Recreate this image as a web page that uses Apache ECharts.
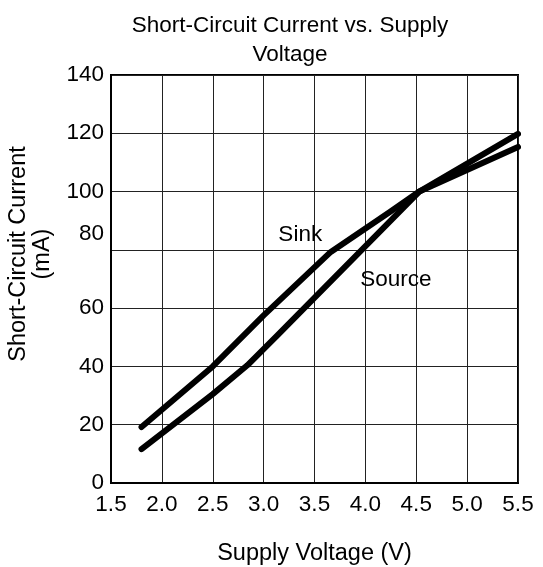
<!DOCTYPE html>
<html>
<head>
<meta charset="utf-8">
<script src="https://cdn.jsdelivr.net/npm/echarts@6/dist/echarts.min.js"></script>
<style>html,body{margin:0;padding:0;background:#fff;}#c{width:543px;height:567px;}</style>
</head>
<body>
<div id="c"></div>
<script>
const titleText = 'Short-Circuit Current vs. Supply\nVoltage';
const xName = 'Supply Voltage (V)';
const yName = 'Short-Circuit Current\n(mA)';
const sinkData = [[1.8, 19.2], [2.5, 40], [3.0, 57.5], [3.66, 79.3], [4.24, 93], [4.53, 100], [5.5, 115.3]];
const sourceData = [[1.8, 11.6], [2.5, 30.5], [2.84, 40.4], [3.13, 50.5], [4.53, 100], [5.5, 119.8]];
const annotations = [[3.36, 85, 'Sink'], [4.3, 69.8, 'Source']];
const xMin = 1.5, xMax = 5.5, xStep = 0.5;
const yMin = 0, yMax = 140, yStep = 20;

const FONT = 'Liberation Sans, Arial, sans-serif';
const chart = echarts.init(document.getElementById('c'), null, {renderer: 'canvas'});
const lineStyle = {color: '#000', width: 6, cap: 'round', join: 'round'};
chart.setOption({
  animation: false,
  backgroundColor: '#fff',
  title: {
    text: titleText, left: 285, top: 6, textAlign: 'center',
    textStyle: {fontFamily: FONT, fontSize: 22.5, fontWeight: 'normal', color: '#000', lineHeight: 29}
  },
  grid: {left: 111, right: 25, top: 75, bottom: 84, show: true, borderColor: '#000', borderWidth: 2,
    containLabel: false, outerBoundsMode: 'none'},
  xAxis: {
    type: 'value', min: xMin, max: xMax, interval: xStep,
    name: xName, nameLocation: 'middle', nameGap: 58.5,
    nameTextStyle: {fontFamily: FONT, fontSize: 23.5, color: '#000'},
    axisLine: {show: true, lineStyle: {color: '#000', width: 2}},
    axisTick: {show: false},
    axisLabel: {fontFamily: FONT, fontSize: 22.5, color: '#000', margin: 10, formatter: v => v.toFixed(1)},
    splitLine: {show: true, lineStyle: {color: '#222', width: 1}}
  },
  yAxis: {
    type: 'value', min: yMin, max: yMax, interval: yStep,
    axisLine: {show: true, lineStyle: {color: '#000', width: 2}},
    axisTick: {show: false},
    axisLabel: {
      fontFamily: FONT, fontSize: 22.5, color: '#000', margin: 7,
      formatter: v => v === 80 ? '{up|80}' : String(v),
      rich: {up: {fontFamily: FONT, fontSize: 22.5, color: '#000', padding: [0, 0, 32, 0]}}
    },
    splitLine: {show: true, lineStyle: {color: '#222', width: 1}}
  },
  graphic: [{
    type: 'text', x: 31, y: 254, rotation: Math.PI / 2,
    style: {text: yName, font: '23.5px ' + FONT, fill: '#000', align: 'center', verticalAlign: 'middle', lineHeight: 24}
  }],
  series: [
    {name: 'Sink', type: 'line', data: sinkData, symbol: 'none', lineStyle: lineStyle, z: 3},
    {name: 'Source', type: 'line', data: sourceData, symbol: 'none', lineStyle: lineStyle, z: 3},
    {
      type: 'scatter', data: annotations, symbolSize: 0, z: 4, itemStyle: {color: '#000', opacity: 1},
      label: {show: true, position: 'inside', formatter: p => p.value[2], fontFamily: FONT, fontSize: 22.5,
        color: '#000', textBorderWidth: 0, opacity: 1}
    }
  ]
});
</script>
</body>
</html>
